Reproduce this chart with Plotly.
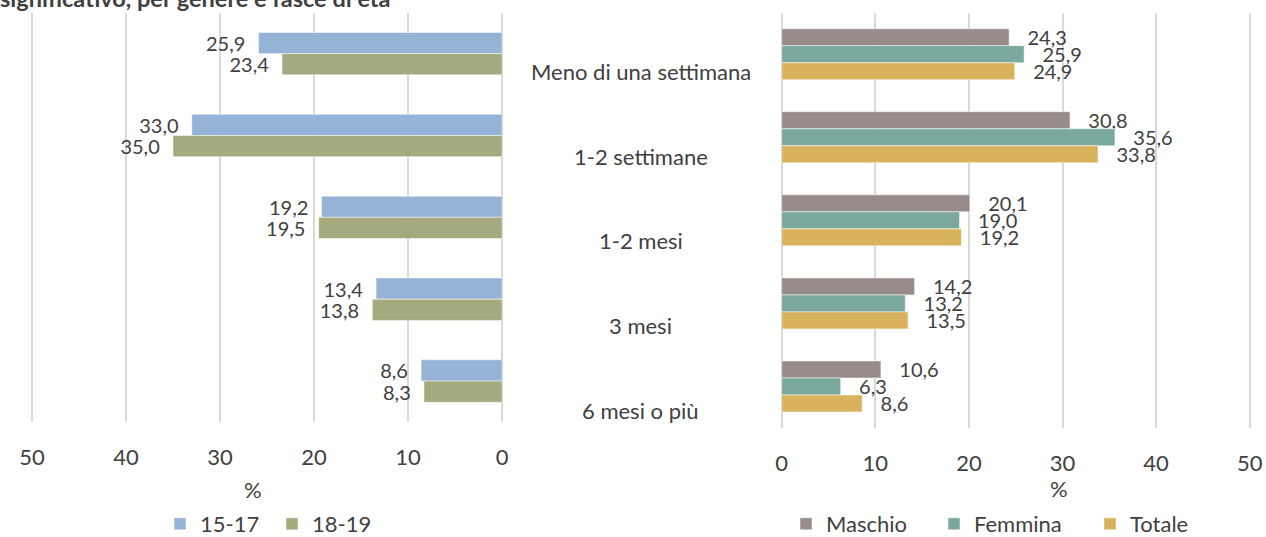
import plotly.graph_objects as go

categories = ["Meno di una settimana", "1-2 settimane", "1-2 mesi", "3 mesi", "6 mesi o più"]

age_names = ["15-17", "18-19"]
age_15_17 = [25.9, 33.0, 19.2, 13.4, 8.6]
age_18_19 = [23.4, 35.0, 19.5, 13.8, 8.3]

gender_names = ["Maschio", "Femmina", "Totale"]
maschio = [24.3, 30.8, 20.1, 14.2, 10.6]
femmina = [25.9, 35.6, 19.0, 13.2, 6.3]
totale = [24.9, 33.8, 19.2, 13.5, 8.6]

x_ticks = [0, 10, 20, 30, 40, 50]
axis_title = "%"
title_text = "significativo, per genere e fasce di età"

FONT = "Lato"
TXT = "#404040"
GRID = "#D9D9D9"
NB = "\u00a0"

W, H = 1266, 537
PX = 9.36  # px per unit on the x axes
EXT = 0.25  # small range extension so that the 50 gridline is drawn


def fmt(v):
    return f"{v:.1f}".replace(".", ",")


fig = go.Figure()

left_colors = ["#95B3D7", "#A4A97E"]
left_series = [age_15_17, age_18_19]
left_w = 0.259
left_offsets = [-left_w, 0.0]
left_legw = [67, 60]
for name, vals, col, off, lw in zip(age_names, left_series, left_colors, left_offsets, left_legw):
    fig.add_trace(go.Bar(
        name=name, y=categories, x=vals, orientation="h",
        xaxis="x", yaxis="y", legend="legend",
        marker=dict(color=col, line=dict(color="rgba(255,255,255,0.5)", width=1)),
        width=left_w, offset=off,
        text=[fmt(v) + NB * 2 for v in vals], textposition="outside",
        constraintext="none", cliponaxis=False,
        textfont=dict(family=FONT, size=20, color=TXT),
        legendwidth=lw, hoverinfo="skip",
    ))

right_colors = ["#978C8A", "#7BA89D", "#D9B25D"]
right_series = [maschio, femmina, totale]
right_w = 0.2047
right_offsets = [-1.5 * right_w, -0.5 * right_w, 0.5 * right_w]
right_legw = [103, 111, 70]
for name, vals, col, off, lw in zip(gender_names, right_series, right_colors, right_offsets, right_legw):
    fig.add_trace(go.Bar(
        name=name, y=categories, x=vals, orientation="h",
        xaxis="x2", yaxis="y2", legend="legend2",
        marker=dict(color=col, line=dict(color="rgba(255,255,255,0.5)", width=1)),
        width=right_w, offset=off,
        text=[NB * 3 + fmt(v) for v in vals], textposition="outside",
        constraintext="none", cliponaxis=False,
        textfont=dict(family=FONT, size=20, color=TXT),
        legendwidth=lw, hoverinfo="skip",
    ))

xcommon = dict(
    tickvals=x_ticks, ticktext=[str(t) for t in x_ticks],
    showgrid=True, gridcolor=GRID, gridwidth=1.5,
    zeroline=True, zerolinecolor=GRID, zerolinewidth=1.5,
    showline=False, ticks="",
    tickfont=dict(family=FONT, size=22, color=TXT),
    ticklabelstandoff=20, fixedrange=True,
)
ycommon = dict(
    type="category", categoryorder="array", categoryarray=categories,
    range=[4.5, -0.5], showticklabels=False, showgrid=False,
    zeroline=False, showline=False, ticks="", fixedrange=True,
)

annotations = []
for i, c in enumerate(categories):
    annotations.append(dict(
        text=c, xref="x2 domain", x=-0.2996, yref="y3", y=i,
        xanchor="center", yanchor="middle", showarrow=False,
        font=dict(family=FONT, size=22, color=TXT),
    ))
annotations.append(dict(
    text=axis_title, xref="paper", x=253 / W, yref="paper", y=(H - 489) / H,
    xanchor="center", yanchor="middle", showarrow=False,
    font=dict(family=FONT, size=22, color=TXT),
))
annotations.append(dict(
    text=axis_title, xref="paper", x=1059 / W, yref="paper", y=(H - 488) / H,
    xanchor="center", yanchor="middle", showarrow=False,
    font=dict(family=FONT, size=22, color=TXT),
))
annotations.append(dict(
    text="<b>" + title_text + "</b>", xref="paper", x=0, yref="paper", y=1 + 2.5 / H,
    xanchor="left", yanchor="middle", showarrow=False, xshift=-2,
    font=dict(family=FONT, size=23.5, color=TXT),
))

left_l = 32 - EXT * PX
right_r = 1249.7 + EXT * PX

fig.update_layout(
    width=W, height=H,
    margin=dict(l=0, r=0, t=0, b=0, autoexpand=False),
    paper_bgcolor="white", plot_bgcolor="rgba(0,0,0,0)",
    font=dict(family=FONT, size=22, color=TXT),
    barmode="group",
    xaxis=dict(domain=[left_l / W, 502 / W], range=[50 + EXT, 0], anchor="y", **xcommon),
    yaxis=dict(domain=[(H - 422) / H, (H - 12.7) / H], anchor="x", **ycommon),
    xaxis2=dict(domain=[781.7 / W, right_r / W], range=[0, 50 + EXT], anchor="y2", **xcommon),
    yaxis2=dict(domain=[(H - 428) / H, (H - 12.7) / H], anchor="x2", **ycommon),
    # hidden helper axes that place the category labels of the right panel
    xaxis3=dict(domain=[781.7 / W, right_r / W], range=[0, 1], anchor="y3",
                visible=False, showgrid=False, zeroline=False, fixedrange=True),
    yaxis3=dict(domain=[(H - 453.1) / H, (H - 28.8) / H], range=[4.5, -0.5], anchor="x3",
                visible=False, showgrid=False, zeroline=False, fixedrange=True),
    legend=dict(orientation="h", x=160 / W, xanchor="left", y=(H - 524) / H, yanchor="middle",
                font=dict(family=FONT, size=22, color=TXT), bgcolor="rgba(0,0,0,0)",
                traceorder="normal"),
    legend2=dict(orientation="h", x=786 / W, xanchor="left", y=(H - 524) / H, yanchor="middle",
                 font=dict(family=FONT, size=22, color=TXT), bgcolor="rgba(0,0,0,0)",
                 traceorder="normal"),
    annotations=annotations,
    showlegend=True,
)

fig.write_html(
    "out.html",
    config={"displayModeBar": False},
    post_script="document.body.style.margin='0';document.body.style.overflow='hidden';",
)
